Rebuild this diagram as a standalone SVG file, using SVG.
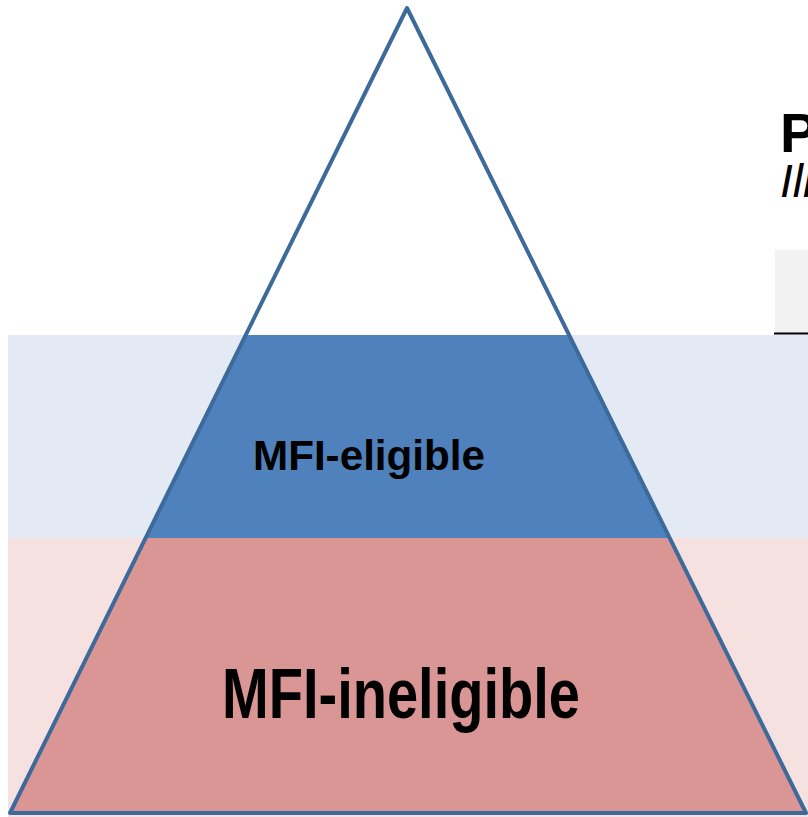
<svg xmlns="http://www.w3.org/2000/svg" width="808" height="817" viewBox="0 0 808 817">
  <style>
    .lbl { font-family: "Liberation Sans", Arial, sans-serif; font-weight: bold; fill: #000; }
    .outline { fill: none; stroke: #3C6A9A; stroke-width: 4; stroke-linejoin: round; }
  </style>
  <rect width="808" height="817" fill="#FFFFFF"/>
  <g id="bands">
    <rect x="8" y="335" width="800" height="203" fill="#E3EAF4"/>
    <rect x="8" y="538" width="800" height="279" fill="#F4E1E0"/>
  </g>
  <g id="header">
    <rect x="775" y="250" width="33" height="83" fill="#F2F2F2"/>
    <line x1="774" y1="333.5" x2="808" y2="333.5" stroke="#000" stroke-width="2"/>
    <text class="lbl" x="780" y="152" font-size="56">P</text>
    <text x="780" y="197" font-size="46" font-style="italic" font-family="Liberation Sans, Arial, sans-serif" fill="#000">Ill</text>
  </g>
  <g id="tier-eligible">
    <polygon points="245.7,335 569.1,335 669.7,538 145.6,538" fill="#4F81BD"/>
    <text class="lbl" x="253" y="470" font-size="43" textLength="232" lengthAdjust="spacingAndGlyphs">MFI-eligible</text>
  </g>
  <g id="tier-ineligible">
    <polygon points="145.6,538 669.7,538 806,813 10,813" fill="#D99694"/>
    <text class="lbl" x="222" y="718" font-size="70" textLength="358" lengthAdjust="spacingAndGlyphs">MFI-ineligible</text>
  </g>
  <g id="pyramid-outline">
    <polygon class="outline" points="407,8 806,813 10,813"/>
  </g>
</svg>
